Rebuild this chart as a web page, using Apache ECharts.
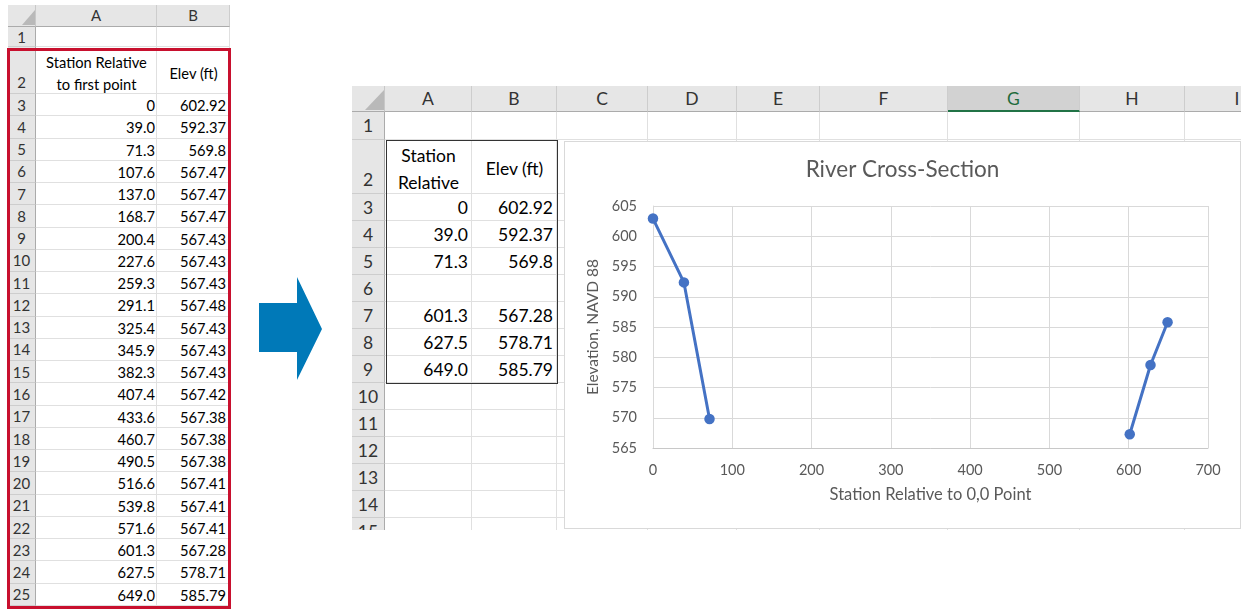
<!DOCTYPE html>
<html>
<head>
<meta charset="utf-8">
<title>River Cross-Section</title>
<script src="https://cdn.jsdelivr.net/npm/echarts@6/dist/echarts.min.js"></script>
<style>
  html, body { margin: 0; padding: 0; background: #fff; width: 1241px; height: 610px; overflow: hidden; }
  body { font-family: Lato, "Open Sans", sans-serif; }
  .abs { position: absolute; box-sizing: border-box; white-space: nowrap; }
</style>
</head>
<body>
<div id="page" style="position:relative;width:1241px;height:610px;"></div>
<script>
// Full survey listing: station relative to first point and elevation (ft)
const allStations = ['0', '39.0', '71.3', '107.6', '137.0', '168.7', '200.4', '227.6', '259.3', '291.1',
  '325.4', '345.9', '382.3', '407.4', '433.6', '460.7', '490.5', '516.6', '539.8', '571.6',
  '601.3', '627.5', '649.0'];
const allElevs = ['602.92', '592.37', '569.8', '567.47', '567.47', '567.47', '567.43', '567.43', '567.43', '567.48',
  '567.43', '567.43', '567.43', '567.42', '567.38', '567.38', '567.38', '567.41', '567.41', '567.41',
  '567.28', '578.71', '585.79'];

// Bank points kept for the chart; the empty row breaks the line between the two banks
const bankStations = [0, 39.0, 71.3, null, 601.3, 627.5, 649.0];
const bankElevs = [602.92, 592.37, 569.8, null, 567.28, 578.71, 585.79];

const leftColLabels = ['A', 'B'];
const rightColLabels = ['A', 'B', 'C', 'D', 'E', 'F', 'G', 'H', 'I'];

const page = document.getElementById('page');

function box(parent, x, y, w, h, css, text) {
  const d = document.createElement('div');
  d.className = 'abs';
  Object.assign(d.style, { left: x + 'px', top: y + 'px', width: w + 'px', height: h + 'px' }, css || {});
  if (text != null) d.textContent = text;
  parent.appendChild(d);
  return d;
}

// Spreadsheet grid: column header strip, row number strip and cell gridlines
function buildSheet(cfg) {
  const s = box(page, cfg.x, cfg.y, cfg.w, cfg.h, { overflow: 'hidden', fontSize: cfg.fs + 'px', color: '#000' });
  box(s, 0, 0, cfg.rh, cfg.ch, { background: '#E6E6E6', borderRight: '1px solid #C8C8C8', borderBottom: '1px solid #ABABAB' });
  const t = cfg.tri;
  box(s, t[0], t[1], t[2], t[3], { background: '#B9B9B9', clipPath: 'polygon(0 100%, 100% 100%, 100% 0)' });
  const colX = [];
  let cx = cfg.rh;
  cfg.cols.forEach((w, i) => {
    colX.push(cx);
    const sel = cfg.sel === i;
    box(s, cx, 0, w, cfg.ch, {
      background: sel ? '#D2D2D2' : '#E6E6E6',
      borderRight: '1px solid #CDCDCD',
      borderBottom: sel ? '2px solid #217346' : '1px solid #ABABAB',
      textAlign: 'center', lineHeight: (cfg.ch - 1) + 'px',
      color: sel ? '#1E6B3C' : '#333', fontSize: cfg.hfs + 'px'
    }, cfg.colLabels[i]);
    cx += w;
  });
  colX.push(cx);
  const rowY = [];
  let ry = cfg.ch;
  cfg.rows.forEach((h, r) => {
    rowY.push(ry);
    const tall = h > cfg.rows[0] * 1.5;
    box(s, 0, ry, cfg.rh, h, {
      background: '#E6E6E6', borderRight: '1px solid #ABABAB', borderBottom: '1px solid #CDCDCD',
      display: 'flex', justifyContent: 'center', alignItems: tall ? 'flex-end' : 'center',
      paddingBottom: tall ? cfg.numPad + 'px' : '0', color: '#333', fontSize: cfg.hfs + 'px'
    }, String(r + 1));
    cfg.cols.forEach((w, i) => box(s, colX[i], ry, w, h, { borderRight: '1px solid #E0E0E0', borderBottom: '1px solid #E0E0E0' }));
    ry += h;
  });
  rowY.push(ry);
  return { s, colX, rowY };
}

function cellText(sh, col, row, text, pad) {
  const x = sh.colX[col], y = sh.rowY[row];
  const w = sh.colX[col + 1] - x, h = sh.rowY[row + 1] - y;
  box(sh.s, x, y, w, h, { textAlign: 'right', paddingRight: pad + 'px', lineHeight: h + 'px' }, text);
}

function headText(sh, col, row, lines, lh, top) {
  const x = sh.colX[col], w = sh.colX[col + 1] - x;
  const y = sh.rowY[row] + top;
  const d = box(sh.s, x, y, w, lh * lines.length, { textAlign: 'center', lineHeight: lh + 'px' });
  d.innerHTML = lines.map(l => l.replace(/&/g, '&amp;').replace(/</g, '&lt;')).join('<br>');
}

// ---- full listing sheet ----
const leftRows = [20, 47].concat(allStations.map(() => 22.26));
const left = buildSheet({
  x: 8, y: 5, w: 222, h: 604, rh: 28, ch: 22,
  cols: [121, 73], colLabels: leftColLabels, rows: leftRows,
  fs: 14.7, hfs: 15, numPad: 2, tri: [14, 5, 13, 15]
});
headText(left, 0, 1, ['Station Relative', 'to first point'], 22, 4);
headText(left, 1, 1, ['Elev (ft)'], 22, 15);
allStations.forEach((v, i) => {
  cellText(left, 0, i + 2, v, 2);
  cellText(left, 1, i + 2, allElevs[i], 4);
});
// highlight frame round the listing
box(page, 7, 48, 224, 561, { border: '3px solid #C8102E' });

// ---- arrow ----
box(page, 259, 277, 63, 103, {
  background: '#0079B8',
  clipPath: 'polygon(0 25.2%, 60.3% 25.2%, 60.3% 0, 100% 50.5%, 60.3% 100%, 60.3% 72.8%, 0 72.8%)'
});

// ---- chart sheet ----
const rightRows = [28, 54].concat(Array(13).fill(27));
const right = buildSheet({
  x: 352, y: 86, w: 889, h: 444, rh: 33, ch: 26,
  cols: [87, 85, 91, 89, 83, 128, 132, 105, 105], colLabels: rightColLabels, sel: 6, rows: rightRows,
  fs: 17.5, hfs: 17.5, numPad: 3, tri: [13, 4, 19, 20]
});
headText(right, 0, 1, ['Station', 'Relative'], 27, 2);
headText(right, 1, 1, ['Elev (ft)'], 27, 15);
bankStations.forEach((v, i) => {
  const st = v == null ? '' : (v === 0 ? '0' : v.toFixed(1));
  const el = bankElevs[i] == null ? '' : String(bankElevs[i]);
  cellText(right, 0, i + 2, st, 4);
  cellText(right, 1, i + 2, el, 4);
});
// frame round the table A2:B9
box(page, 386, 140, 172, 244, { border: '1.5px solid #333' });

// ---- chart ----
const frame = box(page, 564, 141, 677, 388, { border: '1px solid #D9D9D9', background: '#fff' });
const host = box(frame, 0, 0, 675, 386, {});
const chart = echarts.init(host, null, { renderer: 'canvas', width: 675, height: 386 });

const txt = '#595959';
const fam = 'Lato';
const points = bankStations.map((x, i) => (x == null ? ['-', '-'] : [x, bankElevs[i]]));

chart.setOption({
  animation: false,
  title: {
    text: 'River Cross-Section', left: 'center', top: 16, padding: 0,
    textStyle: { fontFamily: fam, fontSize: 22.5, fontWeight: 'normal', color: txt }
  },
  grid: { left: 88, right: 32, top: 64, bottom: 80, containLabel: false },
  xAxis: {
    type: 'value', min: 0, max: 700, interval: 100,
    name: 'Station Relative to 0,0 Point', nameLocation: 'middle', nameGap: 38,
    nameTextStyle: { fontFamily: fam, fontSize: 16.5, color: txt },
    axisLine: { show: true, lineStyle: { color: '#C8C8C8', width: 1 } },
    axisTick: { show: false },
    axisLabel: { margin: 15, fontFamily: fam, fontSize: 14.5, color: txt },
    splitLine: { show: true, lineStyle: { color: '#D9D9D9', width: 1 } }
  },
  yAxis: {
    type: 'value', min: 565, max: 605, interval: 5,
    name: 'Elevation, NAVD 88', nameLocation: 'middle', nameGap: 42, nameRotate: 90,
    nameTextStyle: { fontFamily: fam, fontSize: 15.5, color: txt },
    axisLine: { show: true, lineStyle: { color: '#D9D9D9', width: 1 } },
    axisTick: { show: false },
    axisLabel: { margin: 16, fontFamily: fam, fontSize: 14.5, color: txt },
    splitLine: { show: true, lineStyle: { color: '#D9D9D9', width: 1 } }
  },
  series: [{
    type: 'line',
    data: points,
    connectNulls: false,
    symbol: 'circle', symbolSize: 10.5,
    lineStyle: { color: '#4472C4', width: 3 },
    itemStyle: { color: '#4472C4' }
  }]
});
</script>
</body>
</html>
